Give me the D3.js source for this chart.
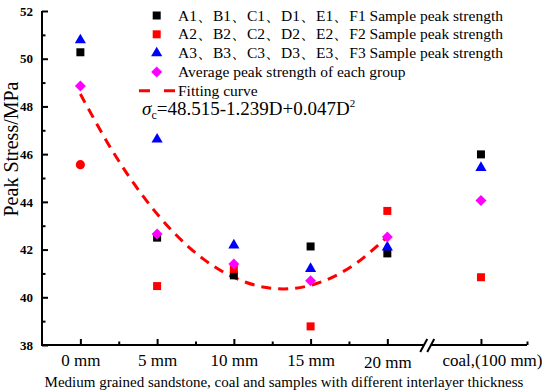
<!DOCTYPE html>
<html lang="en">
<head>
<meta charset="utf-8">
<title>Peak stress vs interlayer thickness</title>
<style type="text/css">
    body {
        margin: 0;
        background-color: #fff;
    }
    svg {
        background-color: white;
    }
    svg text {
        font-family: "Liberation Serif", "Times New Roman", serif;
    }
    .axis path {
        display: none;
    }
    .axis line {
        stroke: #000;
        stroke-width: 2px;
    }
    .yAxis text {
        font-size: 13px;
        font-weight: bold;
        fill: #000;
    }
    .xAxis text {
        font-size: 17px;
        fill: #000;
    }
    .legendText {
        font-size: 15.5px;
        fill: #000;
    }
</style>
<script src="https://d3js.org/d3.v7.min.js"></script>
</head>
<body>
<div id="chart"></div>
<script>

// thickness (mm); coal sits after the axis break
var thickness = [0, 5, 10, 15, 20, 26.1];
var tickLabels = ['0 mm', '5 mm', '10 mm', '15 mm', '20 mm', 'coal,(100 mm)'];

// peak strength, MPa
var set1 = [50.27, 42.5, 40.92, 42.13, 41.84, 45.99];   // A1..F1
var set2 = [45.56, 40.47, 41.19, 38.78, 43.62, 40.84];  // A2..F2
var set3 = [50.78, 46.62, 42.18, 41.2, 42.1, 45.43];    // A3..F3
var avgVals = [48.86, 42.65, 41.4, 40.69, 42.53, 44.06];

// fitting curve
var fitD = [0, 2, 4, 6, 8, 10, 12, 14, 16, 18, 20];
var fitVals = [48.52, 46.23, 44.31, 42.77, 41.61, 40.83, 40.42, 40.38, 40.72, 41.44, 42.54];

var yTicks = [38, 40, 42, 44, 46, 48, 50, 52];
var yMinor = [39, 41, 43, 45, 47, 49, 51];
var xMinor = [2.5, 7.5, 12.5, 17.5, 29.1];

var legendLabels = [
    'A1、B1、C1、D1、E1、F1 Sample peak strength',
    'A2、B2、C2、D2、E2、F2 Sample peak strength',
    'A3、B3、C3、D3、E3、F3 Sample peak strength',
    'Average peak strength of each group',
    'Fitting curve'
];

var width = 550, height = 390;

var svg = d3.select('#chart')
    .append('svg')
    .attr('width', width)
    .attr('height', height);

var xScale = d3.scaleLinear()
    .domain([-2.5, 29.1])
    .range([42, 527]);

var yScale = d3.scaleLinear()
    .domain([38, 52])
    .range([345, 11]);

// y axis
var yAxisG = svg.append('g')
    .attr('class', 'axis yAxis')
    .attr('transform', 'translate(42,0)')
    .call(d3.axisLeft(yScale).tickValues(yTicks).tickSizeInner(-6).tickSizeOuter(0).tickPadding(9));

svg.append('g')
    .attr('class', 'axis')
    .attr('transform', 'translate(42,0)')
    .call(d3.axisLeft(yScale).tickValues(yMinor).tickSizeInner(-3.5).tickSizeOuter(0).tickFormat(''));

svg.append('line')
    .attr('x1', 42).attr('x2', 42)
    .attr('y1', yScale(52)).attr('y2', yScale(38) + 1)
    .attr('stroke', '#000').attr('stroke-width', 2);

// x axis
var xAxisG = svg.append('g')
    .attr('class', 'axis xAxis')
    .attr('transform', 'translate(0,345)')
    .call(d3.axisBottom(xScale).tickValues(thickness).tickSizeInner(-6).tickSizeOuter(0).tickPadding(9)
        .tickFormat(function(d, i) { return tickLabels[i]; }));

xAxisG.selectAll('.tick text')
    .attr('dx', function(d, i) { return i == 5 ? 11 : 0; })
    .attr('dy', function(d, i) { return i == 4 ? '0.82em' : '0.71em'; });

svg.append('g')
    .attr('class', 'axis')
    .attr('transform', 'translate(0,345)')
    .call(d3.axisBottom(xScale).tickValues(xMinor).tickSizeInner(-3.5).tickSizeOuter(0).tickFormat(''));

// axis line with a break
var breakX = xScale(22.6);
svg.append('line')
    .attr('x1', 41).attr('x2', breakX - 3.5)
    .attr('y1', 345).attr('y2', 345)
    .attr('stroke', '#000').attr('stroke-width', 2);
svg.append('line')
    .attr('x1', breakX + 3.5).attr('x2', xScale(29.1))
    .attr('y1', 345).attr('y2', 345)
    .attr('stroke', '#000').attr('stroke-width', 2);
[-3.5, 3.5].forEach(function(off) {
    svg.append('line')
        .attr('x1', breakX + off - 3.5).attr('y1', 352)
        .attr('x2', breakX + off + 3.5).attr('y2', 339)
        .attr('stroke', '#000').attr('stroke-width', 2);
});

// fitting curve
var fitLine = d3.line()
    .x(function(d, i) { return xScale(fitD[i]); })
    .y(function(d) { return yScale(d); })
    .curve(d3.curveCatmullRom);

svg.append('path')
    .datum(fitVals)
    .attr('d', fitLine)
    .attr('fill', 'none')
    .attr('stroke', '#ff0000')
    .attr('stroke-width', 3)
    .attr('stroke-dasharray', '10,7');

// markers
var squareSym = d3.symbol().type(d3.symbolSquare).size(64);
var circleSym = d3.symbol().type(d3.symbolCircle).size(66);
var triSym = d3.symbol().type(d3.symbolTriangle).size(54);
var diamondSym = d3.symbol().type(d3.symbolSquare).size(60);

function drawSet(vals, sym, color, rot) {
    svg.append('g').selectAll('path')
        .data(vals)
        .enter()
        .append('path')
        .attr('d', function(d, i) {
            // the 0 mm point of the second set is a circle
            if (color == '#ff0000' && i == 0) return circleSym();
            return sym();
        })
        .attr('transform', function(d, i) {
            return 'translate(' + xScale(thickness[i]) + ',' + yScale(d) + ')' + (rot ? ' rotate(45)' : '');
        })
        .attr('fill', color);
}

drawSet(set1, squareSym, '#000000', false);
drawSet(set2, squareSym, '#ff0000', false);
drawSet(set3, triSym, '#0000ff', false);
drawSet(avgVals, diamondSym, '#ff00ff', true);

// legend
var legX = 156.7, legY = 15.5, legStep = 18.8;
var legSyms = [squareSym, squareSym, triSym, diamondSym];
var legColors = ['#000000', '#ff0000', '#0000ff', '#ff00ff'];

legSyms.forEach(function(s, i) {
    svg.append('path')
        .attr('d', s())
        .attr('transform', 'translate(' + legX + ',' + (legY + i * legStep) + ')' + (i == 3 ? ' rotate(45)' : ''))
        .attr('fill', legColors[i]);
});

svg.append('line')
    .attr('x1', 139).attr('x2', 175)
    .attr('y1', legY + 4 * legStep).attr('y2', legY + 4 * legStep)
    .attr('stroke', '#ff0000')
    .attr('stroke-width', 3)
    .attr('stroke-dasharray', '11,14');

legendLabels.forEach(function(t, i) {
    svg.append('text')
        .attr('class', 'legendText')
        .attr('x', 178)
        .attr('y', legY + i * legStep + 5)
        .text(t);
});

// equation
var eq = svg.append('text')
    .attr('x', 142)
    .attr('y', 115)
    .attr('font-size', '19px')
    .attr('fill', '#000');
eq.append('tspan').attr('font-style', 'italic').text('σ');
eq.append('tspan').attr('font-size', '12px').attr('dy', 4).text('c');
eq.append('tspan').attr('dy', -4).text('=48.515-1.239D+0.047D');
eq.append('tspan').attr('font-size', '11px').attr('dy', -8).text('2');

// axis titles
svg.append('text')
    .attr('transform', 'translate(18,149) rotate(-90)')
    .attr('text-anchor', 'middle')
    .attr('font-size', '20px')
    .attr('fill', '#000')
    .text('Peak Stress/MPa');

svg.append('text')
    .attr('x', 284)
    .attr('y', 387)
    .attr('text-anchor', 'middle')
    .attr('font-size', '15px')
    .attr('fill', '#000')
    .text('Medium grained sandstone, coal and samples with different interlayer thickness');

</script>
</body>
</html>
